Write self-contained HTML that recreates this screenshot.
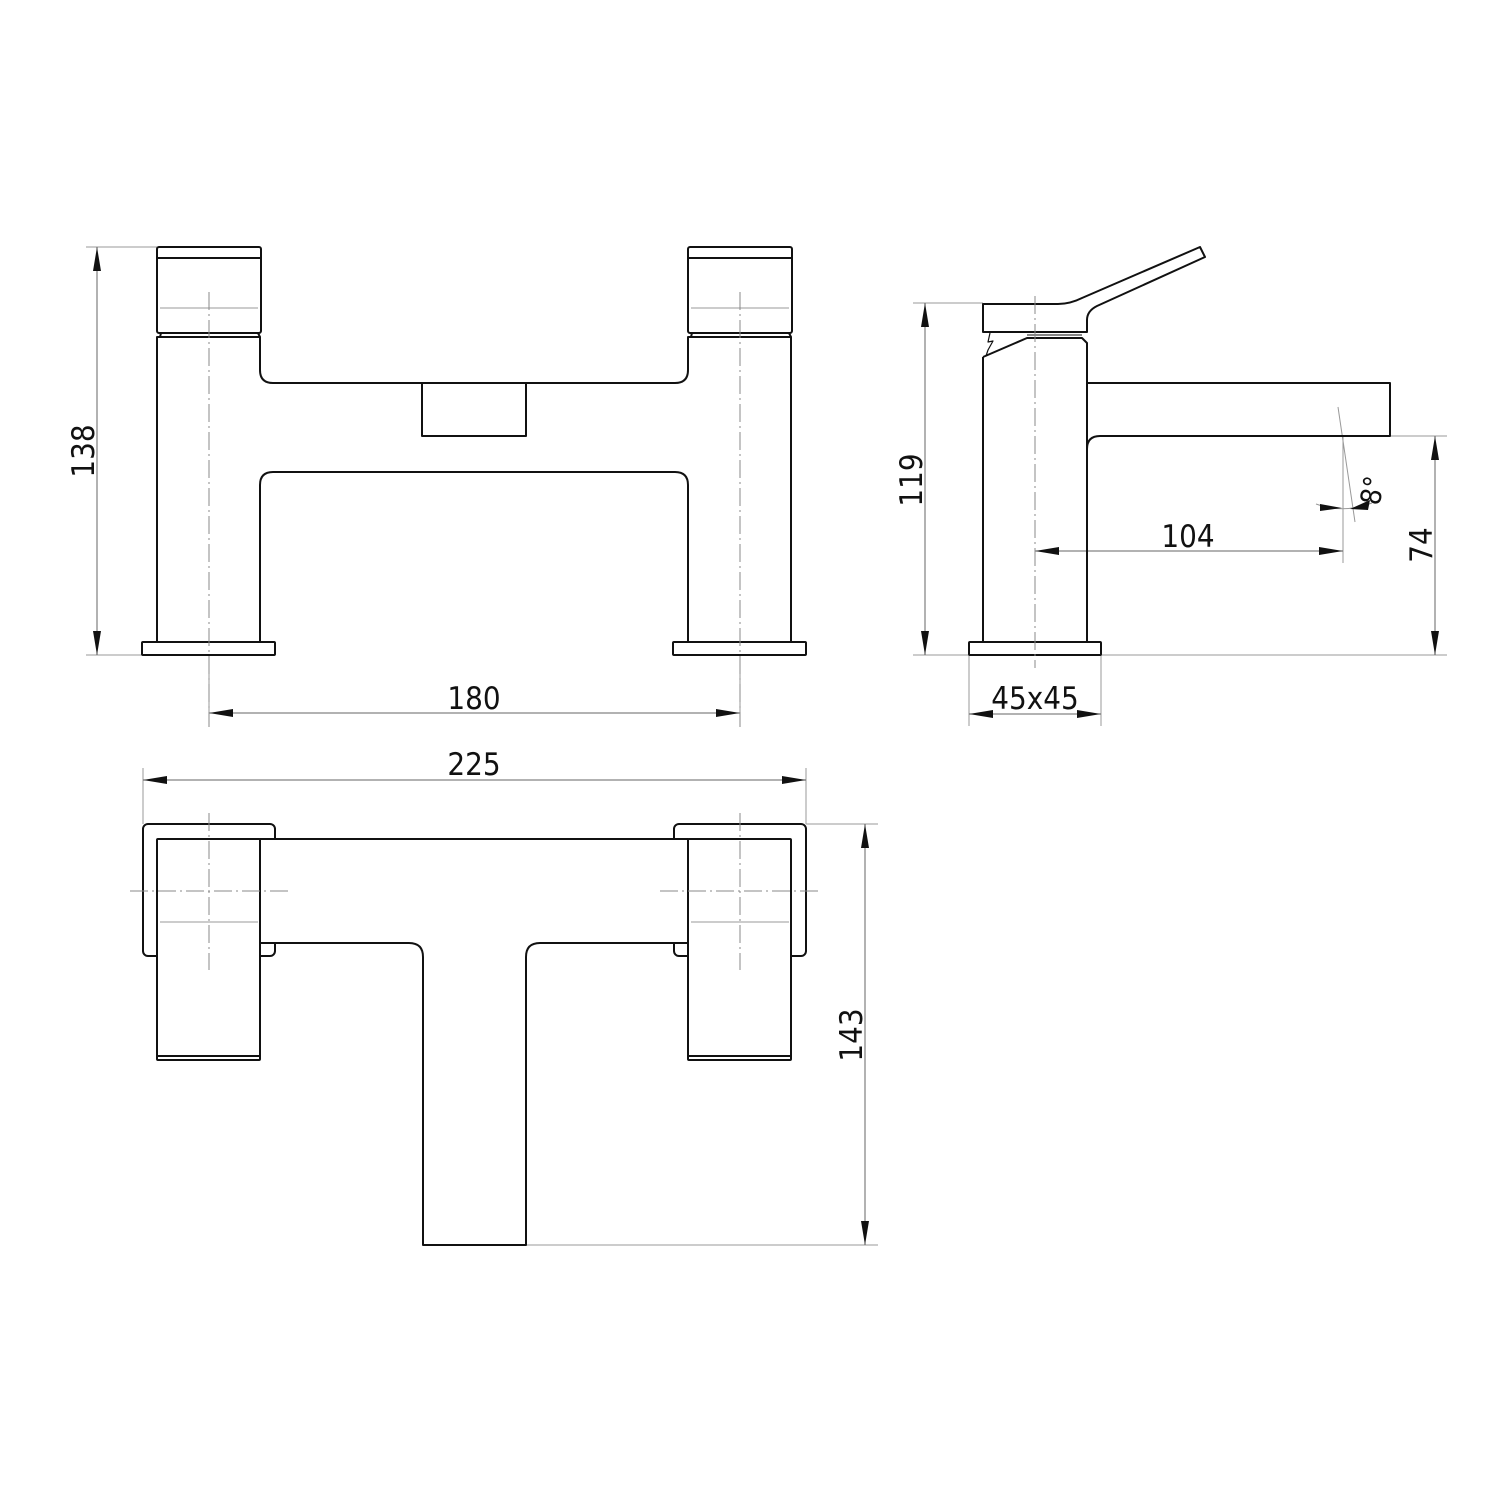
<!DOCTYPE html>
<html><head><style>
html,body{margin:0;padding:0;background:#fff;}
svg{display:block}
text{font-family:"DejaVu Sans Condensed","Liberation Sans Narrow","Liberation Sans",sans-serif;font-size:31px;fill:#111;}
</style></head><body>
<svg width="1500" height="1500" viewBox="0 0 1500 1500" xmlns="http://www.w3.org/2000/svg">
<defs>
<marker id="a" viewBox="0 0 24 8" refX="24" refY="4" markerWidth="24" markerHeight="8" markerUnits="userSpaceOnUse" orient="auto-start-reverse"><path d="M0,0 L24,4 L0,8 Z" fill="#111"/></marker>
</defs>
<g fill="none" stroke="#999" stroke-width="1">
<line x1="86" y1="247" x2="157" y2="247"/>
<line x1="86" y1="655" x2="142" y2="655"/>
<line x1="209" y1="655" x2="209" y2="727"/>
<line x1="740" y1="655" x2="740" y2="727"/>
<line x1="160" y1="308" x2="258" y2="308"/>
<line x1="691" y1="308" x2="789" y2="308"/>
<line x1="913" y1="303" x2="983" y2="303"/>
<line x1="913" y1="655" x2="969" y2="655"/>
<line x1="1101" y1="655" x2="1447" y2="655"/>
<line x1="1390" y1="436" x2="1447" y2="436"/>
<line x1="969" y1="655" x2="969" y2="726"/>
<line x1="1101" y1="655" x2="1101" y2="726"/>
<line x1="1343" y1="436" x2="1343" y2="563"/>
<line x1="1338" y1="407" x2="1355" y2="522"/>
<path d="M1316,504 Q1343,514 1372,503"/>
<line x1="143" y1="768" x2="143" y2="824"/>
<line x1="806" y1="768" x2="806" y2="824"/>
<line x1="806" y1="824" x2="878" y2="824"/>
<line x1="526" y1="1245" x2="878" y2="1245"/>
</g>
<g fill="none" stroke="#666" stroke-width="1">
<line x1="97" y1="247" x2="97" y2="655" marker-start="url(#a)" marker-end="url(#a)"/>
<line x1="209" y1="713" x2="740" y2="713" marker-start="url(#a)" marker-end="url(#a)"/>
<line x1="925" y1="303" x2="925" y2="655" marker-start="url(#a)" marker-end="url(#a)"/>
<line x1="1435" y1="436" x2="1435" y2="655" marker-start="url(#a)" marker-end="url(#a)"/>
<line x1="1035" y1="551" x2="1343" y2="551" marker-start="url(#a)" marker-end="url(#a)"/>
<line x1="969" y1="714" x2="1101" y2="714" marker-start="url(#a)" marker-end="url(#a)"/>
<line x1="143" y1="780" x2="806" y2="780" marker-start="url(#a)" marker-end="url(#a)"/>
<line x1="865" y1="824" x2="865" y2="1245" marker-start="url(#a)" marker-end="url(#a)"/>
</g>
<path d="M1320,504 L1342,508 L1320,511 Z" fill="#111"/>
<path d="M1370,500 L1350,509 L1368,510 Z" fill="#111"/>
<g fill="none" stroke="#111" stroke-width="2" stroke-linejoin="round">
<rect x="157" y="247" width="104" height="86" rx="2"/>
<line x1="157" y1="258" x2="261" y2="258"/>
<path d="M161,333 L160,337 M258,333 L260,337"/>
<rect x="688" y="247" width="104" height="86" rx="2"/>
<line x1="688" y1="258" x2="792" y2="258"/>
<path d="M692,333 L691,337 M789,333 L791,337"/>
<path d="M157,642 L157,337 L260,337 L260,370 Q260,383 273,383 L675,383 Q688,383 688,370 L688,337 L791,337 L791,642"/>
<path d="M260,642 L260,485 Q260,472 273,472 L675,472 Q688,472 688,485 L688,642"/>
<path d="M422,383 L422,436 L526,436 L526,383"/>
<rect x="142" y="642" width="133" height="13" rx="1"/>
<rect x="673" y="642" width="133" height="13" rx="1"/>
<path d="M983,332 L983,304 L1058,304 Q1070,304 1082,298 L1200,247 L1205,257 L1097,306 Q1087,311 1087,320 L1087,332 Z"/>
<path d="M983,357 L1027,338 L1082,338 L1087,343 L1087,642"/>
<path d="M983,357 L983,642"/>
<path d="M990,333 L988,342 L993,341 L988,350 L986,356" stroke-width="1.2"/>
<path d="M1027,335 L1082,335" stroke-width="1"/>
<path d="M1087,383 L1390,383 L1390,436 L1100,436 Q1087,436 1087,449"/>
<rect x="969" y="642" width="132" height="13" rx="1"/>
<rect x="143" y="824" width="132" height="132" rx="5"/>
<rect x="674" y="824" width="132" height="132" rx="5"/>
<path d="M260,839 L688,839 L688,943 L540,943 Q526,943 526,957 L526,1245 L423,1245 L423,957 Q423,943 409,943 L260,943 Z" fill="#fff"/>
<rect x="157" y="839" width="103" height="221" rx="1" fill="#fff"/>
<line x1="157" y1="1056" x2="260" y2="1056"/>
<rect x="688" y="839" width="103" height="221" rx="1" fill="#fff"/>
<line x1="688" y1="1056" x2="791" y2="1056"/>
</g>
<g fill="none" stroke="#999" stroke-width="1">
<line x1="160" y1="922" x2="258" y2="922"/>
<line x1="691" y1="922" x2="789" y2="922"/>
</g>
<g fill="none" stroke="#888" stroke-width="1" stroke-dasharray="18,4,2,4">
<line x1="209" y1="292" x2="209" y2="727"/>
<line x1="740" y1="292" x2="740" y2="727"/>
<line x1="1035" y1="296" x2="1035" y2="668"/>
<line x1="209" y1="813" x2="209" y2="970"/>
<line x1="130" y1="891" x2="288" y2="891"/>
<line x1="740" y1="813" x2="740" y2="970"/>
<line x1="660" y1="891" x2="819" y2="891"/>
</g>
<text x="474" y="709" text-anchor="middle">180</text>
<text x="474" y="775" text-anchor="middle">225</text>
<text x="1188" y="547" text-anchor="middle">104</text>
<text x="1035" y="709" text-anchor="middle">45x45</text>
<text transform="translate(94,451) rotate(-90)" text-anchor="middle">138</text>
<text transform="translate(922,480) rotate(-90)" text-anchor="middle">119</text>
<text transform="translate(1432,545) rotate(-90)" text-anchor="middle">74</text>
<text transform="translate(862,1035) rotate(-90)" text-anchor="middle">143</text>
<text transform="translate(1382,492) rotate(-80)" text-anchor="middle" style="font-size:28px">8°</text>
</svg>
</body></html>
